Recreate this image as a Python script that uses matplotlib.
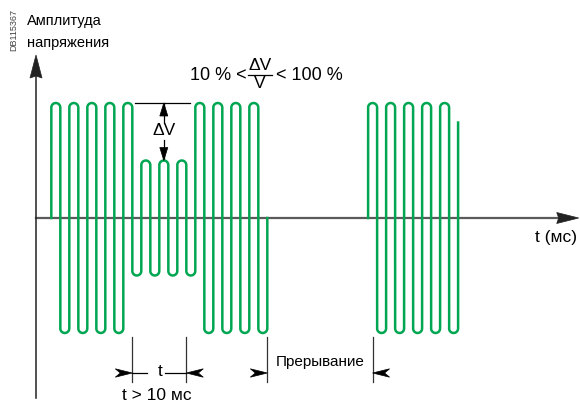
import numpy as np
import matplotlib.pyplot as plt
from matplotlib.patches import Polygon

plt.rcParams["font.family"] = ["Liberation Sans", "DejaVu Sans"]

GREEN = "#00a651"
AXIS_DARK = "#222222"
AXIS_GREY = "#5a5a5a"

# signal: half period (ms), start time and peak of every half cycle
HALF_MS = 10
BURST1_START = 17
BURST1_PEAKS = [1, -1, 1, -1, 1, -1, 1, -1, 1,
                -0.5, 0.5, -0.5, 0.5, -0.5, 0.5, -0.5,
                1, -1, 1, -1, 1, -1, 1, -1]
BURST1_END = 0
BURST2_START = 369
BURST2_PEAKS = [1, -1, 1, -1, 1, -1, 1, -1, 1, -1]
BURST2_END = 0.83

# scale of the drawing: pixels per ms and per unit of amplitude
PX_PER_MS = 0.9
PX_PER_UNIT = 115
PX_T = 1 / PX_PER_MS
PX_A = 1 / PX_PER_UNIT


def burst_path(start, peaks, end):
    r_t = HALF_MS / 2
    r_a = (HALF_MS * PX_PER_MS / 2) * PX_A
    xs, ys = [start], [0.0]
    for k, p in enumerate(peaks):
        x = start + k * HALF_MS
        s = 1 if p > 0 else -1
        yc = p - s * r_a
        xs.append(x)
        ys.append(yc)
        th = np.linspace(np.pi, 0, 24) if s > 0 else np.linspace(np.pi, 2 * np.pi, 24)
        xs.extend(x + r_t + r_t * np.cos(th))
        ys.extend(yc + r_a * np.sin(th))
    xs.append(start + len(peaks) * HALF_MS)
    ys.append(end)
    return np.array(xs), np.array(ys)


def head(ax, tip_t, tip_a, direction, length=15, half_w=4, notch=4, color="black"):
    dx, dy = direction
    px, py = -dy, dx
    pts_px = [
        (0, 0),
        (-dx * length + px * half_w, -dy * length + py * half_w),
        (-dx * (length - notch), -dy * (length - notch)),
        (-dx * length - px * half_w, -dy * length - py * half_w),
    ]
    pts = [(tip_t + x * PX_T, tip_a + y * PX_A) for x, y in pts_px]
    ax.add_patch(Polygon(pts, closed=True, facecolor=color, edgecolor=color, lw=0.5, zorder=5))


fig = plt.figure(figsize=(5.8, 4.05), dpi=100)
ax = fig.add_axes([0, 0, 1, 1])
ax.set_xlim(-36 * PX_T, (580 - 36) * PX_T)
ax.set_ylim((218 - 405) * PX_A, 218 * PX_A)
ax.axis("off")

# axes
ax.plot([0, 0], [(218 - 398) * PX_A, 1.3], color=AXIS_DARK, lw=1.1)
head(ax, 0, (218 - 55) * PX_A, (0, 1), length=23, half_w=6, notch=2, color=AXIS_DARK)
ax.plot([0, 590], [0, 0], color=AXIS_GREY, lw=1.6, zorder=1)
head(ax, 603, 0, (1, 0), length=22, half_w=5.5, notch=2, color=AXIS_DARK)

# signal
for start, peaks, end in [(BURST1_START, BURST1_PEAKS, BURST1_END),
                          (BURST2_START, BURST2_PEAKS, BURST2_END)]:
    xs, ys = burst_path(start, peaks, end)
    ax.plot(xs, ys, color=GREEN, lw=1.8, solid_joinstyle="round", zorder=3)

# delta V
dip_cap = BURST1_START + 12 * HALF_MS + HALF_MS / 2
ax.plot([110, 171], [1, 1], color="black", lw=0.9)
ax.plot([dip_cap, dip_cap], [1, 0.835], color="black", lw=0.9)
ax.plot([dip_cap, dip_cap], [0.5, 0.678], color="black", lw=0.9)
head(ax, dip_cap, 1, (0, 1), length=13, half_w=4, notch=0)
head(ax, dip_cap, 0.5, (0, -1), length=13, half_w=4, notch=0)
ax.text(dip_cap, 0.757, "ΔV", fontsize=12.5, ha="center", va="center")

# formula
frac_t = (260 - 36) * PX_T
frac_a = (218 - 75) * PX_A
ax.plot([frac_t - 12 * PX_T, frac_t + 12 * PX_T], [frac_a, frac_a], color="black", lw=0.9)
ax.text(frac_t, frac_a + 1.5 * PX_A, "ΔV", fontsize=12.5, ha="center", va="bottom")
ax.text(frac_t, frac_a - 1.5 * PX_A, "V", fontsize=12.5, ha="center", va="top")
ax.text(frac_t - 13 * PX_T, frac_a, "10 % <", fontsize=13, ha="right", va="center")
ax.text(frac_t + 16 * PX_T, frac_a, "< 100 %", fontsize=13, ha="left", va="center")

# brackets
tick_lo, tick_hi = (218 - 382) * PX_A, (218 - 337) * PX_A
arrow_a = (218 - 373) * PX_A
dip_l = BURST1_START + 9 * HALF_MS
dip_r = BURST1_START + 15 * HALF_MS
gap_l = BURST1_START + len(BURST1_PEAKS) * HALF_MS
gap_r = BURST2_START + HALF_MS / 2
for t in [dip_l, dip_r, gap_l, gap_r]:
    ax.plot([t, t], [tick_lo, tick_hi], color="#333333", lw=0.9)
for t_l, t_r in [(dip_l, dip_r), (gap_l, gap_r)]:
    head(ax, t_l, arrow_a, (1, 0), length=17, half_w=4.2, notch=5)
    head(ax, t_r, arrow_a, (-1, 0), length=17, half_w=4.2, notch=5)
ax.plot([dip_l, 123], [arrow_a, arrow_a], color="black", lw=0.9)
ax.plot([143, dip_r], [arrow_a, arrow_a], color="black", lw=0.9)
ax.text(137.8, arrow_a + 2 * PX_A, "t", fontsize=12.5, ha="center", va="center")
ax.text(134, (218 - 395) * PX_A, "t > 10 мс", fontsize=12.5, ha="center", va="center")
ax.text((gap_l + gap_r) / 2, (218 - 362) * PX_A, "Прерывание", fontsize=11,
        ha="center", va="center")

# labels
ax.text(577.8, (218 - 238) * PX_A, "t (мс)", fontsize=12.5, ha="center", va="center")
ax.text(-10, (218 - 25) * PX_A, "Амплитуда", fontsize=10.5, ha="left", va="baseline")
ax.text(-10, (218 - 47) * PX_A, "напряжения", fontsize=10.5, ha="left", va="baseline")
ax.text(-24.4, (218 - 30) * PX_A, "DB115367", fontsize=6.5, rotation=90,
        ha="center", va="center", color="#444444")

fig.savefig("out.png", dpi=100)
